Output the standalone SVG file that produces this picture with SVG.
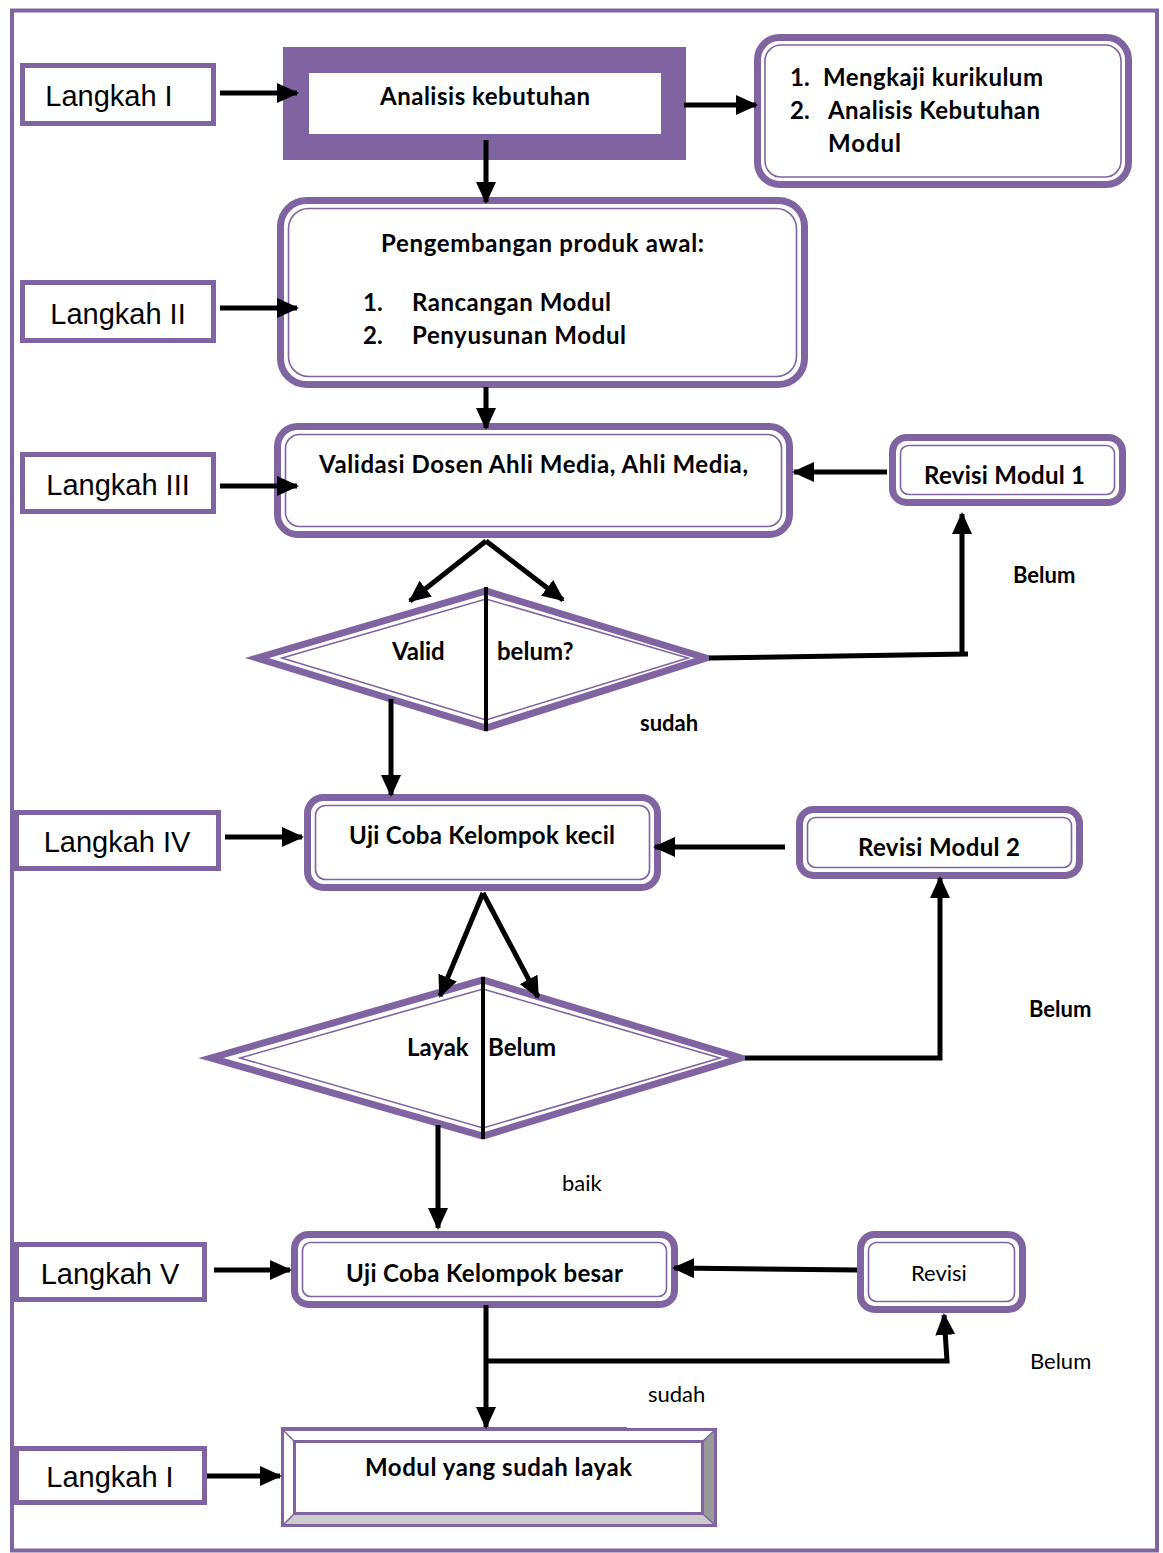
<svg xmlns="http://www.w3.org/2000/svg" width="1163" height="1553" viewBox="0 0 1163 1553">
<style>
.frame{fill:none;stroke:#8064A2;stroke-width:4}
.step{fill:#fff;stroke:#8064A2;stroke-width:5}
.steptxt{font-family:"Liberation Sans",Arial,sans-serif;font-size:29px;fill:#000;text-anchor:middle}
.outer{fill:#fff;stroke:#8064A2;stroke-width:7}
.inner{fill:none;stroke:#8064A2;stroke-width:1.6}
.b{font-family:Lato,"Open Sans",sans-serif;font-weight:bold;font-size:24px;fill:#000}
.bs{font-family:Lato,"Open Sans",sans-serif;font-weight:bold;font-size:22px;fill:#000}
.n{font-family:Lato,"Open Sans",sans-serif;font-size:22px;fill:#000}
.conn{fill:none;stroke:#000;stroke-width:5}
.split{stroke:#000;stroke-width:4}
</style>
<defs>
<marker id="ah" markerUnits="userSpaceOnUse" markerWidth="22" markerHeight="20" refX="20" refY="10" orient="auto">
<path d="M0,0 L22,10 L0,20 z" fill="#000"/>
</marker>
</defs>
<rect width="1163" height="1553" fill="#fff"/>
<rect class="frame" x="12" y="10.5" width="1145" height="1540"/>

<g id="langkah1"><rect class="step" x="22.5" y="65.5" width="191" height="58"/><text class="steptxt" x="109" y="106">Langkah I</text></g>
<g id="langkah2"><rect class="step" x="22.5" y="282.5" width="191" height="58"/><text class="steptxt" x="118" y="324">Langkah II</text></g>
<g id="langkah3"><rect class="step" x="22.5" y="454.5" width="191" height="57"/><text class="steptxt" x="118" y="495">Langkah III</text></g>
<g id="langkah4"><rect class="step" x="16.5" y="812.5" width="202" height="56"/><text class="steptxt" x="117" y="852">Langkah IV</text></g>
<g id="langkah5"><rect class="step" x="16.5" y="1244.5" width="188" height="55"/><text class="steptxt" x="110" y="1284">Langkah V</text></g>
<g id="langkah6"><rect class="step" x="16.5" y="1448.5" width="188" height="54"/><text class="steptxt" x="110" y="1487">Langkah I</text></g>

<g id="analisis">
<rect x="283" y="47" width="403" height="113" fill="#8064A2"/>
<rect x="309" y="73" width="352" height="61" fill="#fff"/>
<text class="b" x="380" y="105" textLength="210">Analisis kebutuhan</text>
</g>

<g id="kurikulum">
<rect class="outer" x="757.5" y="37.5" width="371" height="147" rx="22"/>
<rect class="inner" x="765" y="45" width="356" height="132" rx="16"/>
<text class="b" x="790" y="86">1.</text>
<text class="b" x="823" y="86" textLength="220">Mengkaji kurikulum</text>
<text class="b" x="790" y="119">2.</text>
<text class="b" x="828" y="119" textLength="212">Analisis Kebutuhan</text>
<text class="b" x="828" y="152" textLength="73">Modul</text>
</g>

<g id="pengembangan">
<rect class="outer" x="280.5" y="200.5" width="524" height="184" rx="26"/>
<rect class="inner" x="288.5" y="208.5" width="508" height="168" rx="20"/>
<text class="b" x="381" y="252" textLength="323">Pengembangan produk awal:</text>
<text class="b" x="363" y="311">1.</text>
<text class="b" x="412" y="311" textLength="199">Rancangan Modul</text>
<text class="b" x="363" y="344">2.</text>
<text class="b" x="412" y="344" textLength="214">Penyusunan Modul</text>
</g>

<g id="validasi">
<rect class="outer" x="277.5" y="426.5" width="512" height="108" rx="20"/>
<rect class="inner" x="285.5" y="434.5" width="496" height="92" rx="14"/>
<text class="b" x="319" y="473" textLength="429">Validasi Dosen Ahli Media, Ahli Media,</text>
</g>

<g id="revisi1">
<rect class="outer" x="892.5" y="437.5" width="230" height="65" rx="14"/>
<rect class="inner" x="900.5" y="445.5" width="214" height="49" rx="8"/>
<text class="b" x="924" y="484" textLength="161">Revisi Modul 1</text>
</g>

<g id="valid">
<polygon class="outer" points="257,658 486,591 706,658 486,728"/>
<polygon class="inner" points="282,658 486,599 688,658 486,720"/>
<line class="split" x1="486" y1="587" x2="486" y2="731"/>
<text class="b" x="392" y="660">Valid</text>
<text class="b" x="497" y="660">belum?</text>
</g>

<g id="ujikecil">
<rect class="outer" x="307.5" y="797.5" width="350" height="90" rx="16"/>
<rect class="inner" x="315.5" y="805.5" width="334" height="74" rx="10"/>
<text class="b" x="349" y="844" textLength="266">Uji Coba Kelompok kecil</text>
</g>

<g id="revisi2">
<rect class="outer" x="799.5" y="809.5" width="280" height="66" rx="14"/>
<rect class="inner" x="807.5" y="817.5" width="264" height="50" rx="8"/>
<text class="b" x="858" y="856" textLength="162">Revisi Modul 2</text>
</g>

<g id="layak">
<polygon class="outer" points="211,1058 483,980 741,1058 483,1136"/>
<polygon class="inner" points="240,1058 483,989 720,1058 483,1128"/>
<line class="split" x1="483" y1="977" x2="483" y2="1139"/>
<text class="b" x="407" y="1056">Layak</text>
<text class="b" x="488" y="1056">Belum</text>
</g>

<g id="ujibesar">
<rect class="outer" x="294.5" y="1234.5" width="380" height="70" rx="14"/>
<rect class="inner" x="302.5" y="1242.5" width="364" height="54" rx="8"/>
<text class="b" x="346" y="1282" textLength="277">Uji Coba Kelompok besar</text>
</g>

<g id="revisi3">
<rect class="outer" x="860.5" y="1234.5" width="162" height="75" rx="14"/>
<rect class="inner" x="868.5" y="1242.5" width="146" height="59" rx="8"/>
<text class="n" x="911" y="1281">Revisi</text>
</g>

<g id="modul">
<rect x="281" y="1428" width="436" height="99" fill="#fff"/>
<polygon points="281,1527 717,1527 703,1514 294,1514" fill="#cccccc"/>
<polygon points="717,1428 717,1527 703,1514 703,1441" fill="#999999"/>
<g fill="none" stroke="#8064A2" stroke-width="1.5">
<line x1="281" y1="1428" x2="294" y2="1441"/>
<line x1="717" y1="1428" x2="703" y2="1441"/>
<line x1="281" y1="1527" x2="294" y2="1514"/>
<line x1="717" y1="1527" x2="703" y2="1514"/>
</g>
<rect x="282.5" y="1429.5" width="433" height="96" fill="none" stroke="#8064A2" stroke-width="3"/>
<line x1="281" y1="1429" x2="627" y2="1429" stroke="#8064A2" stroke-width="4"/>
<rect x="294.5" y="1441.5" width="408" height="72" fill="none" stroke="#8064A2" stroke-width="3"/>
<text class="b" x="365" y="1476" textLength="267">Modul yang sudah layak</text>
</g>

<g id="connectors">
<line class="conn" x1="220" y1="93" x2="297" y2="93" marker-end="url(#ah)"/>
<line class="conn" x1="684" y1="105" x2="756" y2="105" marker-end="url(#ah)"/>
<line class="conn" x1="486" y1="140" x2="486" y2="202" marker-end="url(#ah)"/>
<line class="conn" x1="220" y1="308" x2="297" y2="308" marker-end="url(#ah)"/>
<line class="conn" x1="486" y1="387" x2="486" y2="428" marker-end="url(#ah)"/>
<line class="conn" x1="220" y1="486" x2="297" y2="486" marker-end="url(#ah)"/>
<line class="conn" x1="887" y1="472" x2="794" y2="472" marker-end="url(#ah)"/>
<line class="conn" x1="486" y1="541" x2="410" y2="601" marker-end="url(#ah)"/>
<line class="conn" x1="486" y1="541" x2="563" y2="600" marker-end="url(#ah)"/>
<polyline class="conn" points="709,658 968,654"/>
<line class="conn" x1="962" y1="656" x2="962" y2="514" marker-end="url(#ah)"/>
<line class="conn" x1="391" y1="699" x2="391" y2="795" marker-end="url(#ah)"/>
<line class="conn" x1="225" y1="837" x2="302" y2="837" marker-end="url(#ah)"/>
<line class="conn" x1="785" y1="847" x2="655" y2="847" marker-end="url(#ah)"/>
<line class="conn" x1="483" y1="893" x2="440" y2="996" marker-end="url(#ah)"/>
<line class="conn" x1="483" y1="893" x2="538" y2="997" marker-end="url(#ah)"/>
<polyline class="conn" points="745,1058 940,1058 940,878" marker-end="url(#ah)"/>
<line class="conn" x1="438" y1="1125" x2="438" y2="1228" marker-end="url(#ah)"/>
<line class="conn" x1="214" y1="1270" x2="290" y2="1270" marker-end="url(#ah)"/>
<line class="conn" x1="857" y1="1270" x2="674" y2="1268" marker-end="url(#ah)"/>
<line class="conn" x1="486" y1="1305" x2="486" y2="1427" marker-end="url(#ah)"/>
<polyline class="conn" points="486,1361 947,1361 944,1315" marker-end="url(#ah)"/>
<line class="conn" x1="207" y1="1476" x2="280" y2="1476" marker-end="url(#ah)"/>
</g>

<g id="labels">
<text class="bs" x="1013" y="583">Belum</text>
<text class="bs" x="640" y="731">sudah</text>
<text class="bs" x="1029" y="1017">Belum</text>
<text class="n" x="562" y="1191">baik</text>
<text class="n" x="1030" y="1369">Belum</text>
<text class="n" x="648" y="1402">sudah</text>
</g>
</svg>
